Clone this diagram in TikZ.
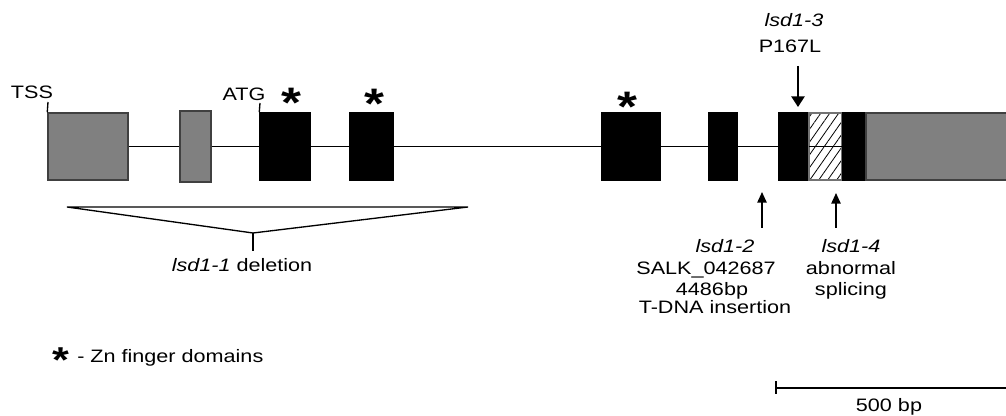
\documentclass[tikz,border=0pt]{standalone}
\usepackage{fontspec}
\setmainfont[FakeStretch=1.2]{Liberation Sans}
\usetikzlibrary{fit,arrows.meta,patterns.meta}
\begin{document}
\begin{tikzpicture}[x=0.75pt,y=-0.75pt,
  every node/.style={font=\fontsize{13.5}{16}\selectfont, inner sep=0pt},
  exon/.style={inner sep=0pt, draw=black, fill=black, line width=1.1pt},
  utr/.style={inner sep=0pt, draw=black!75, fill=black!50, line width=1.1pt},
  hatchbox/.style={inner sep=0pt, draw=black!55, line width=1.1pt,
    pattern={Lines[angle=55,distance=5.5pt,line width=0.6pt]}, pattern color=black},
  intron/.style={line width=1.2pt},
  thinline/.style={line width=1pt},
  mutarrow/.style={line width=1.2pt, -{Triangle[width=10pt,length=8pt]}},
  mutarrowsmall/.style={line width=1.2pt, -{Triangle[width=7pt,length=8pt]}},
  starmark/.style={font=\fontsize{32}{32}\bfseries\selectfont, anchor=north},
  legendstar/.style={font=\fontsize{27}{27}\bfseries\selectfont, anchor=north},
  lbl/.style={anchor=base}
]
\clip (0,0) rectangle (1006,416);
\fill[white] (0,0) rectangle (1006,416);

% exons
\node[utr, fit={(48,113) (128,180)}] (e1) {};
\node[utr, fit={(180,111) (211,182)}] (e2) {};
\node[exon, fit={(260,113) (310,180)}] (e3) {};
\node[exon, fit={(350,113) (393,180)}] (e4) {};
\node[exon, fit={(602,113) (660,180)}] (e5) {};
\node[exon, fit={(709,113) (737,180)}] (e6) {};
\node[exon, fit={(779,113) (808,180)}] (e7) {};
\node[hatchbox, fit={(809,113) (842,180)}] (h) {};
\node[exon, fit={(843,113) (866,180)}] (e8) {};
\node[utr, fit={(866,113) (1030,180)}] (e9) {};

% introns
\draw[intron] (e1.east) -- (e2.west);
\draw[intron] (e2.east) -- (e3.west);
\draw[intron] (e3.east) -- (e4.west);
\draw[intron] (e4.east) -- (e5.west);
\draw[intron] (e5.east) -- (e6.west);
\draw[intron] (e6.east) -- (e7.west);
\draw[intron] (e7.east) -- (e8.west);

% TSS and ATG
\node[lbl] (tss) at (32,99) {TSS};
\coordinate (tsstick) at (48,102);
\draw[thinline] (e1.north west) -- (tsstick);
\node[lbl] (atg) at (244,101) {ATG};
\coordinate (atgtick) at (260,103);
\draw[thinline] (e3.north west) -- (atgtick);

% Zn finger asterisks
\node[starmark] (s1) at (291,88) {*};
\node[starmark] (s2) at (374,89) {*};
\node[starmark] (s3) at (627,92) {*};

% lsd1-3
\node[lbl] (l3a) at (794,27) {\textit{lsd1-3}};
\node[lbl] (l3b) at (790,53) {P167L};
\coordinate (a3s) at (798,66);
\coordinate (a3e) at (798,107);
\draw[mutarrow] (a3s) -- (a3e);

% lsd1-2
\coordinate (a2s) at (762,228);
\coordinate (a2e) at (762,192);
\draw[mutarrowsmall] (a2s) -- (a2e);
\node[lbl] (l2a) at (725,253) {\textit{lsd1-2}};
\node[lbl] (l2b) at (706,275) {SALK\_042687};
\node[lbl] (l2c) at (712,296) {4486bp};
\node[lbl] (l2d) at (715,314) {T-DNA insertion};

% lsd1-4
\coordinate (a4s) at (836,228);
\coordinate (a4e) at (836,193);
\draw[mutarrowsmall] (a4s) -- (a4e);
\node[lbl] (l4a) at (851,253) {\textit{lsd1-4}};
\node[lbl] (l4b) at (851,275) {abnormal};
\node[lbl] (l4c) at (851,296) {splicing};

% lsd1-1 deletion
\coordinate (dl) at (67,207);
\coordinate (dr) at (468,207);
\coordinate (dm) at (253,233);
\coordinate (dt) at (253,251);
\draw[thinline, line join=miter] (dl) -- (dr) -- (dm) -- cycle;
\draw[thinline] (dm) -- (dt);
\node[lbl] (l1) at (242,272) {\textit{lsd1-1} deletion};

% legend
\node[legendstar] (ls) at (61,347) {*};
\node[lbl, anchor=base west] (legend) at (77,363) {- Zn finger domains};

% scale bar
\coordinate (sb1) at (776,388);
\coordinate (sb2) at (1010,388);
\coordinate (sbt1) at (776,381);
\coordinate (sbt2) at (776,394);
\draw[thinline] (sb1) -- (sb2);
\draw[thinline] (sbt1) -- (sbt2);
\node[lbl] (sbl) at (889,411) {500 bp};
\end{tikzpicture}
\end{document}
